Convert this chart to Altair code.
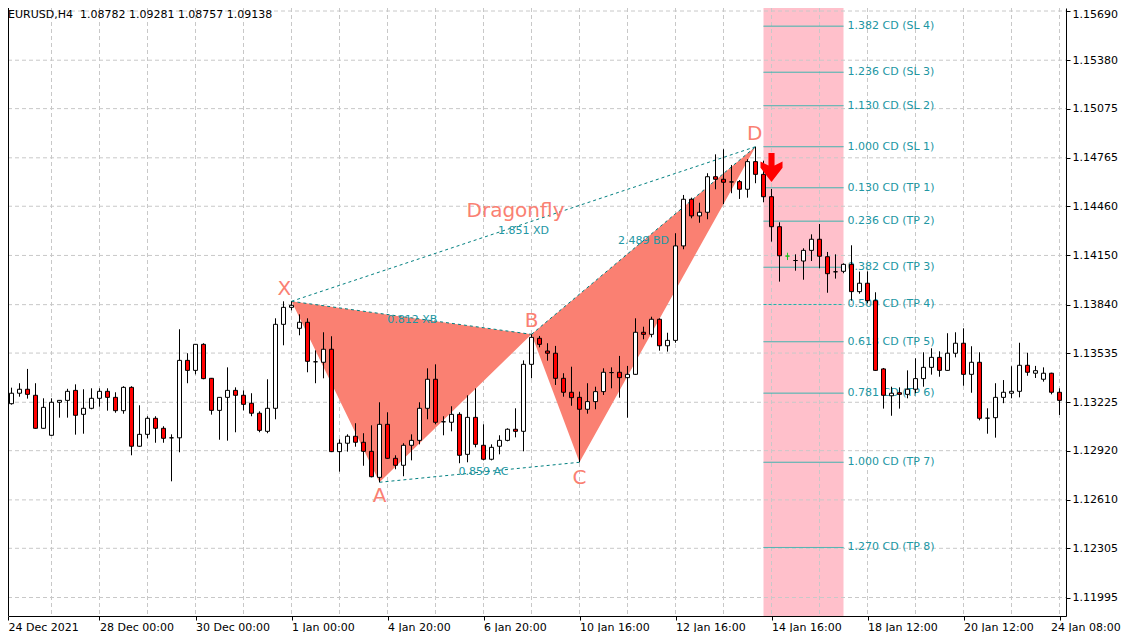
import altair as alt
import pandas as pd

# ---------------- data ----------------
OPEN = [1.13338,1.13216,1.13282,1.13307,1.13269,1.13061,1.13017,1.13225,1.13237,1.13300,
        1.13149,1.13187,1.13250,1.13294,1.13256,1.13172,1.13319,1.12948,1.13023,1.13124,
        1.13061,1.13001,1.13001,1.13489,1.13426,1.13590,1.13376,1.13174,1.13256,1.13300,
        1.13269,1.13219,1.13156,1.13042,1.13187,1.13716,1.13823,1.13691,1.13729,1.13480,
        1.13477,1.13559,1.12914,1.12967,1.13011,1.12973,1.12916,1.12752,1.13086,1.12872,
        1.12828,1.12954,1.12985,1.13187,1.13370,1.13102,1.13099,1.13149,1.12897,1.13130,
        1.12954,1.12866,1.12948,1.12985,1.13055,1.13042,1.13464,1.13628,1.13548,1.13534,
        1.13376,1.13288,1.13256,1.13181,1.13229,1.13292,1.13412,1.13414,1.13380,1.13401,
        1.13666,1.13653,1.13748,1.13581,1.13615,1.14210,1.14504,1.14399,1.14422,1.14646,
        1.14630,1.14613,1.14615,1.14567,1.14741,1.14661,1.14520,1.14331,1.14146,1.14118,
        1.14115,1.14182,1.14252,1.14142,1.14047,1.14050,1.14094,1.13922,1.13975,1.13865,
        1.13435,1.13266,1.13285,1.13275,1.13307,1.13374,1.13445,1.13508,1.13426,1.13534,
        1.13597,1.13401,1.13477,1.13125,1.13128,1.13256,1.13282,1.13294,1.13458,1.13408,
        1.13370,1.13408,1.13288]
HIGH = [1.13353,1.13317,1.13345,1.13435,1.13345,1.13250,1.13250,1.13237,1.13310,1.13338,
        1.13307,1.13313,1.13313,1.13313,1.13288,1.13326,1.13326,1.13206,1.13137,1.13137,
        1.13074,1.13023,1.13685,1.13534,1.13592,1.13597,1.13378,1.13258,1.13445,1.13319,
        1.13300,1.13282,1.13168,1.13370,1.13754,1.13861,1.13861,1.13779,1.13754,1.13552,
        1.13666,1.13641,1.12992,1.13023,1.13093,1.13030,1.13080,1.13225,1.13162,1.12891,
        1.12967,1.13023,1.13225,1.13439,1.13464,1.13137,1.13200,1.13162,1.13269,1.13313,
        1.13086,1.12960,1.13017,1.13061,1.13187,1.13489,1.13653,1.13643,1.13597,1.13580,
        1.13408,1.13449,1.13292,1.13345,1.13323,1.13439,1.13445,1.13517,1.13454,1.13754,
        1.13701,1.13764,1.13754,1.13663,1.14290,1.14531,1.14514,1.14482,1.14668,1.14787,
        1.14819,1.14720,1.14625,1.14756,1.14835,1.14747,1.14569,1.14359,1.14167,1.14157,
        1.14195,1.14283,1.14348,1.14172,1.14157,1.14100,1.14214,1.14048,1.14050,1.13918,
        1.13441,1.13323,1.13319,1.13426,1.13502,1.13540,1.13565,1.13546,1.13660,1.13666,
        1.13691,1.13578,1.13540,1.13187,1.13345,1.13365,1.13452,1.13600,1.13537,1.13454,
        1.13445,1.13411,1.13313]
LOW = [1.13040,1.13210,1.13260,1.13248,1.13058,1.13058,1.13014,1.13128,1.13128,1.13021,
       1.13027,1.13181,1.13197,1.13172,1.13159,1.13153,1.12891,1.12945,1.12998,1.12970,
       1.12970,1.12727,1.12910,1.13345,1.13401,1.13370,1.13147,1.12989,1.12983,1.13036,
       1.13174,1.13137,1.13036,1.13030,1.13118,1.13584,1.13804,1.13647,1.13414,1.13345,
       1.13376,1.12911,1.12788,1.12914,1.12945,1.12825,1.12752,1.12721,1.12869,1.12803,
       1.12759,1.12859,1.12960,1.13118,1.13086,1.13017,1.13042,1.12841,1.12847,1.12941,
       1.12859,1.12859,1.12897,1.12979,1.13004,1.12916,1.13376,1.13571,1.13487,1.13334,
       1.13260,1.13203,1.12847,1.13153,1.13181,1.13271,1.13313,1.13254,1.13128,1.13398,
       1.13622,1.13634,1.13550,1.13544,1.13600,1.14189,1.14384,1.14356,1.14378,1.14567,
       1.14474,1.14542,1.14506,1.14514,1.14605,1.14485,1.14237,1.13985,1.14121,1.14054,
       1.13997,1.14115,1.14069,1.13915,1.14004,1.14038,1.13865,1.13909,1.13849,1.13423,
       1.13185,1.13140,1.13185,1.13250,1.13282,1.13323,1.13399,1.13386,1.13423,1.13508,
       1.13329,1.13285,1.13111,1.13027,1.13002,1.13219,1.13250,1.13256,1.13392,1.13378,
       1.13355,1.13275,1.13145]
CLOSE = [1.13219,1.13282,1.13307,1.13275,1.13061,1.13193,1.13225,1.13237,1.13294,1.13143,
         1.13187,1.13250,1.13294,1.13256,1.13172,1.13319,1.12948,1.13023,1.13124,1.13061,
         1.12998,1.13001,1.13489,1.13426,1.13590,1.13374,1.13174,1.13256,1.13300,1.13269,
         1.13212,1.13156,1.13048,1.13187,1.13716,1.13823,1.13836,1.13729,1.13483,1.13480,
         1.13559,1.12914,1.12967,1.13011,1.12973,1.12916,1.12756,1.13086,1.12872,1.12828,
         1.12954,1.12985,1.13187,1.13370,1.13099,1.13102,1.13149,1.12891,1.13130,1.12960,
         1.12866,1.12941,1.12985,1.13055,1.13042,1.13464,1.13634,1.13590,1.13534,1.13376,
         1.13288,1.13254,1.13181,1.13229,1.13292,1.13414,1.13412,1.13380,1.13401,1.13666,
         1.13653,1.13748,1.13581,1.13615,1.14210,1.14504,1.14399,1.14422,1.14646,1.14630,
         1.14611,1.14613,1.14567,1.14741,1.14661,1.14520,1.14331,1.14148,1.14146,1.14118,
         1.14182,1.14252,1.14145,1.14035,1.14047,1.14094,1.13922,1.13975,1.13865,1.13426,
         1.13269,1.13282,1.13275,1.13307,1.13374,1.13445,1.13508,1.13426,1.13534,1.13597,
         1.13401,1.13477,1.13124,1.13125,1.13256,1.13288,1.13294,1.13458,1.13414,1.13424,
         1.13408,1.13288,1.13237]
MARKER_BAR = 98  # bar drawn as a green cross

X_LABEL_BARS = [0, 12, 24, 36, 48, 60, 72, 84, 96, 108, 120, 132]
X_LABELS = ["24 Dec 2021", "28 Dec 00:00", "30 Dec 00:00", "1 Jan 00:00", "4 Jan 20:00",
            "6 Jan 20:00", "10 Jan 16:00", "12 Jan 16:00", "14 Jan 16:00", "18 Jan 12:00",
            "20 Jan 12:00", "24 Jan 08:00"]
X_GRID_BARS = [6, 12, 18, 24, 30, 36, 42, 48, 54, 60, 66, 72, 78, 84, 90, 96, 102, 108,
               114, 120, 126, 132]
Y_TICKS = [1.15690, 1.15380, 1.15075, 1.14765, 1.14460, 1.14150, 1.13840, 1.13535,
           1.13225, 1.12920, 1.12610, 1.12305, 1.11995]

PT_NAMES = ["X", "A", "B", "C", "D"]
PT_BARS = [36, 47, 66, 72, 94]
PT_PRICES = [1.13861, 1.12721, 1.13653, 1.12847, 1.14835]
PT_LABEL_BARS = [35.1, 47, 66, 72, 93.9]
PT_LABEL_PRICES = [1.13939, 1.12634, 1.13737, 1.12748, 1.14915]

LEG_TEXT = ["0.812 XB", "0.859 AC", "1.851 XD", "2.489 BD"]
LEG_PAIRS = [("X", "B"), ("A", "C"), ("X", "D"), ("B", "D")]
LEG_TEXT_BARS = [51.1, 60.0, 65.0, 80.0]
LEG_TEXT_PRICES = [1.13743, 1.12786, 1.14304, 1.14241]

PATTERN_NAME = "Dragonfly"
PATTERN_NAME_POS = (64.0, 1.14430)

LEVEL_RATIOS = [1.382, 1.236, 1.130, 1.000, 0.130, 0.236, 0.382, 0.500, 0.618, 0.781, 1.000, 1.270]
LEVEL_NAMES = ["SL 4", "SL 3", "SL 2", "SL 1", "TP 1", "TP 2", "TP 3", "TP 4", "TP 5",
               "TP 6", "TP 7", "TP 8"]
ZONE_BARS = [95, 105]

ARROW_BAR = 96
ARROW_PRICE = 1.14704

HEADER = "EURUSD,H4\u00a0 1.08782 1.09281 1.08757 1.09138"

# ---------------- styling ----------------
FONT = "DejaVu Sans"
SALMON = "#FA8072"
TEAL_LINE = "#20B2AA"
TEAL_TEXT = "#2196A3"
TEAL_DASH = "#007F80"
GRID = "#c8c8c8"
W, H = 1058, 608
X_DOMAIN = [0.5625, 132.8125]

XS = alt.Scale(domain=X_DOMAIN, nice=False, zero=False)
YS = alt.Scale(domain=[1.118785, 1.157089], nice=False, zero=False)

x_tick_values = [max(v, X_DOMAIN[0]) for v in X_LABEL_BARS]
label_expr = "[" + ",".join(f"'{s}'" for s in X_LABELS) + "][round(datum.value/12)]"
XAX = alt.Axis(values=x_tick_values, labelExpr=label_expr, orient="bottom", grid=False,
               domainColor="#000000", tickColor="#000000", tickSize=4,
               labelAlign="left", labelBaseline="top", labelPadding=1,
               labelOffset={"condition": {"test": "datum.value > 130", "value": -9}, "value": 0},
               labelFlush=False, labelOverlap=False, labelFont=FONT,
               labelFontSize=11, labelColor="#000000", title=None)
YAX = alt.Axis(values=Y_TICKS, format=".5f", orient="right", grid=False,
               domainColor="#000000", tickColor="#000000", tickSize=4,
               labelPadding=2, labelBaseline="middle", labelFlush=False,
               labelOffset={"condition": {"test": "datum.value > 1.1565", "value": 3}, "value": 0},
               labelOverlap=False, labelFont=FONT, labelFontSize=11,
               labelColor="#000000", title=None)


def X(f):
    return alt.X(f, scale=XS, axis=XAX, title=None)


def Y(f):
    return alt.Y(f, scale=YS, axis=YAX, title=None, stack=None)


# ---------------- frames ----------------
n = len(OPEN)
candles = pd.DataFrame({"i": list(range(n)), "o": OPEN, "h": HIGH, "l": LOW, "c": CLOSE})


def kind(row):
    if row.i == MARKER_BAR:
        return "mark"
    if row.c > row.o:
        return "up"
    if row.c < row.o:
        return "down"
    return "doji"


candles["kind"] = candles.apply(kind, axis=1)
candles["top"] = candles[["o", "c"]].max(axis=1)
candles["bot"] = candles[["o", "c"]].min(axis=1)
candles["x0"] = candles["i"] - 0.25
candles["x1"] = candles["i"] + 0.25

pts = dict(zip(PT_NAMES, zip(PT_BARS, PT_PRICES)))


def on_line(p, q, x):
    (x1, y1), (x2, y2) = pts[p], pts[q]
    return y1 + (y2 - y1) * (x - x1) / (x2 - x1)


tri_rows = []
for tri, (a, b, c) in enumerate([("X", "A", "B"), ("B", "C", "D")]):
    for name in (a, b, c):
        xv, yv = pts[name]
        upper = yv if name != b else on_line(a, c, xv)
        tri_rows.append({"tri": tri, "x": xv, "y": yv, "y2": upper})
tris = pd.DataFrame(tri_rows)

leg_rows = []
for k, (p, q) in enumerate(LEG_PAIRS):
    for name in (p, q):
        leg_rows.append({"seg": k, "x": pts[name][0], "y": pts[name][1]})
legs = pd.DataFrame(leg_rows)

dP, cP = pts["D"][1], pts["C"][1]
cd = dP - cP
lev_rows = []
for r, nm in zip(LEVEL_RATIOS, LEVEL_NAMES):
    price = dP + (r - 1.0) * cd if nm.startswith("SL") else dP - r * cd
    lev_rows.append({"price": price, "label": f"{r:.3f} CD ({nm})",
                     "dash": "dashed" if nm == "TP 4" else "solid",
                     "x0": ZONE_BARS[0], "x1": ZONE_BARS[1]})
levels = pd.DataFrame(lev_rows)

# ---------------- layers ----------------
zone = alt.Chart(pd.DataFrame({"a": [ZONE_BARS[0]], "b": [ZONE_BARS[1]]})).mark_rect(
    color="#FFC0CB").encode(x=X("a:Q"), x2="b:Q", y=alt.value(0), y2=alt.value(H))

vgrid = alt.Chart(pd.DataFrame({"g": X_GRID_BARS})).mark_rule(
    color=GRID, strokeDash=[4, 3], strokeWidth=1).encode(
    x=X("g:Q"), y=alt.value(0), y2=alt.value(H))

hgrid = alt.Chart(pd.DataFrame({"p": Y_TICKS})).mark_rule(
    color=GRID, strokeDash=[4, 3], strokeWidth=1).encode(
    y=Y("p:Q"), x=alt.value(0), x2=alt.value(W))

area = alt.Chart(tris).mark_area(color=SALMON, opacity=1, interpolate="linear").encode(
    x=X("x:Q"), y=Y("y:Q"), y2="y2:Q", detail="tri:N")

leglines = alt.Chart(legs).mark_line(color=TEAL_DASH, strokeDash=[3, 3], strokeWidth=1).encode(
    x=X("x:Q"), y=Y("y:Q"), detail="seg:N")

legtext = alt.Chart(pd.DataFrame({"x": LEG_TEXT_BARS, "y": LEG_TEXT_PRICES, "t": LEG_TEXT})).mark_text(
    font=FONT, fontSize=11, color=TEAL_TEXT, align="center", baseline="middle").encode(
    x=X("x:Q"), y=Y("y:Q"), text="t:N")

lvl_lines = alt.Chart(levels).mark_rule(color=TEAL_LINE, strokeWidth=1).encode(
    x=X("x0:Q"), x2="x1:Q", y=Y("price:Q"),
    strokeDash=alt.StrokeDash("dash:N", scale=alt.Scale(domain=["solid", "dashed"],
                                                       range=[[1, 0], [3, 2]]), legend=None))

lvl_text = alt.Chart(levels).mark_text(
    font=FONT, fontSize=11, color=TEAL_TEXT, align="left", baseline="middle", dx=4).encode(
    x=X("x1:Q"), y=Y("price:Q"), text="label:N")

KIND_DOM = ["up", "down", "doji", "mark"]
fill_scale = alt.Scale(domain=KIND_DOM, range=["#ffffff", "#ff0000", "#ffffff", "#ffffff"])
stroke_scale = alt.Scale(domain=KIND_DOM, range=["#000000", "#000000", "#000000", "#22c022"])

wicks = alt.Chart(candles).mark_rule(strokeWidth=1, clip=True).encode(
    x=X("i:Q"), y=Y("l:Q"), y2="h:Q",
    stroke=alt.Stroke("kind:N", scale=stroke_scale, legend=None))

bodies = alt.Chart(candles).mark_rect(strokeWidth=1, clip=True).encode(
    x=X("x0:Q"), x2="x1:Q", y=Y("top:Q"), y2="bot:Q",
    fill=alt.Fill("kind:N", scale=fill_scale, legend=None),
    stroke=alt.Stroke("kind:N", scale=stroke_scale, legend=None))

letters = alt.Chart(pd.DataFrame({"x": PT_LABEL_BARS, "y": PT_LABEL_PRICES, "t": PT_NAMES})).mark_text(
    font=FONT, fontSize=20, color=SALMON, align="center", baseline="middle").encode(
    x=X("x:Q"), y=Y("y:Q"), text="t:N")

pname = alt.Chart(pd.DataFrame({"x": [PATTERN_NAME_POS[0]], "y": [PATTERN_NAME_POS[1]],
                                "t": [PATTERN_NAME]})).mark_text(
    font=FONT, fontSize=20, color=SALMON, align="center", baseline="middle").encode(
    x=X("x:Q"), y=Y("y:Q"), text="t:N")

ARROW_PATH = ("M-0.21,-1 L0.21,-1 L0.21,-0.14 L0.76,-0.41 L0.76,0.02 L0,1 "
              "L-0.76,0.02 L-0.76,-0.41 L-0.21,-0.14 Z")
arrow = alt.Chart(pd.DataFrame({"x": [ARROW_BAR], "y": [ARROW_PRICE]})).mark_point(
    shape=ARROW_PATH, size=841, filled=True, fill="#ff0000", opacity=1).encode(
    x=X("x:Q"), y=Y("y:Q"))

header = alt.Chart(pd.DataFrame({"t": [HEADER]})).mark_text(
    font=FONT, fontSize=11, color="#000000", align="left", baseline="top").encode(
    x=alt.value(0), y=alt.value(1), text="t:N")

left_frame = alt.Chart(pd.DataFrame({"a": [0]})).mark_rule(color="#000000", strokeWidth=1).encode(
    x=alt.value(0.5), y=alt.value(0), y2=alt.value(H))

chart = alt.layer(
    zone, vgrid, hgrid, area, leglines, legtext, lvl_lines, lvl_text,
    wicks, bodies, letters, pname, arrow, header, left_frame
).properties(
    width=W, height=H,
    autosize=alt.AutoSizeParams(type="none"),
    padding={"left": 0, "top": 0, "right": 57, "bottom": 16},
    background="#ffffff",
).configure_view(stroke=None)

chart.save("out.html", embed_options={"renderer": "svg", "actions": False})
